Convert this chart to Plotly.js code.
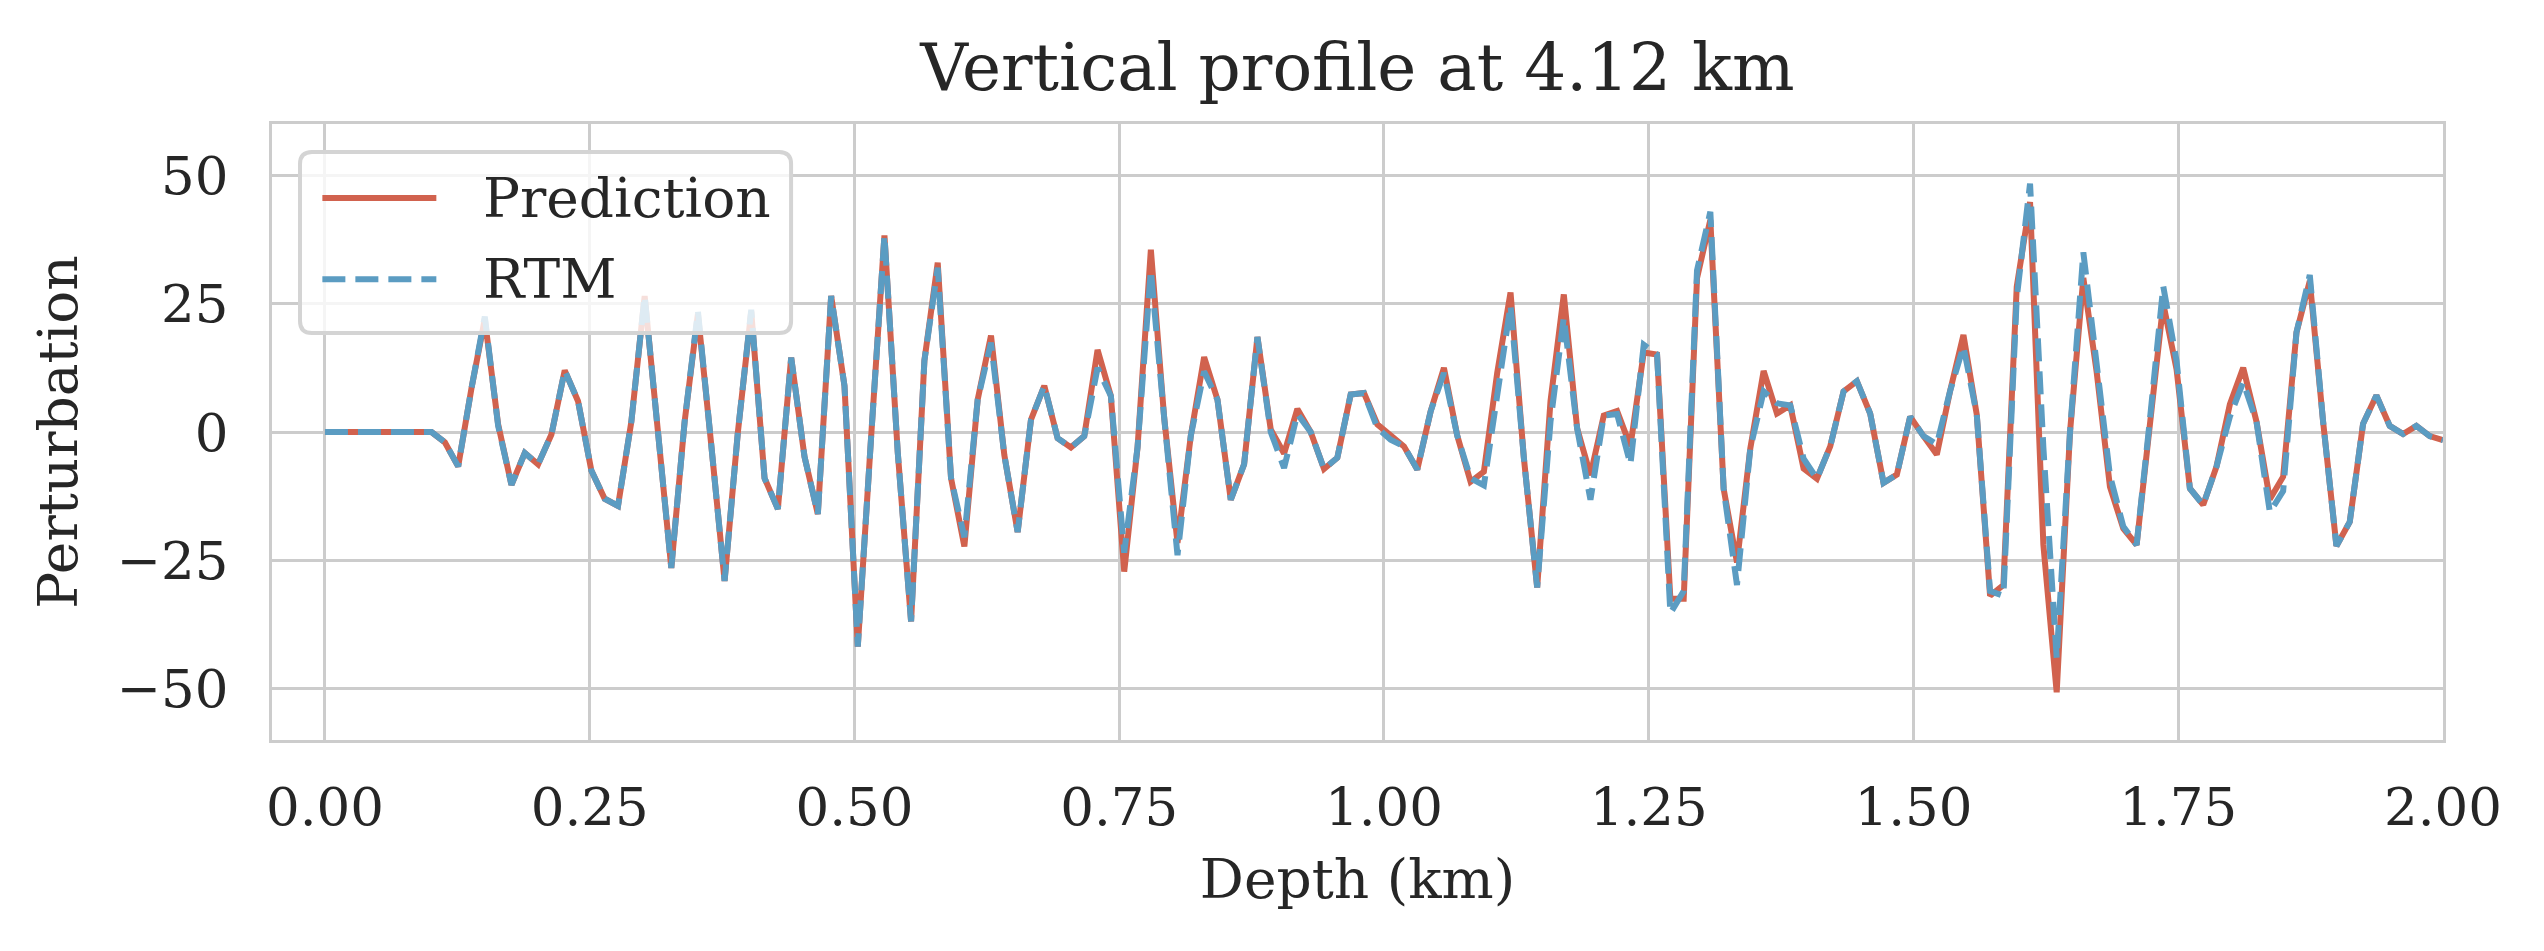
<!DOCTYPE html>
<html>
<head>
<meta charset="utf-8">
<script src="https://cdn.plot.ly/plotly-3.0.1.min.js"></script>
<style>
  html, body { margin: 0; padding: 0; background: #fff; }
  #profile { width: 2544px; height: 951px; }
</style>
</head>
<body>
<div id="profile"></div>
<script>
// samples along the vertical profile, 160 points from 0 to 2 km
const DEPTH_STEP = 2 / 159;

const prediction = [
  0, 0, 0, 0, 0, 0, 0, 0, 0,
  -2, -6.7, 8.5, 22, 1.5, -10.3, -4.1, -6.3, -0.5, 12,
  6, -7.5, -13, -14.4, 2, 26.5, 0, -26.5, 2, 23,
  -2.5, -29, 0, 23.5, -9, -15, 14.5, -4.8, -16, 26.5,
  9, -41.8, -1, 38.3, -4, -36.9, 13.9, 33, -9, -22.3,
  6.3, 18.8, -4.5, -19.5, 2.4, 9, -1.2, -3, -0.8, 16,
  7, -27.2, -3, 35.5, 2.8, -21.6, -0.7, 14.6, 6.3, -13.2,
  -6.3, 18.5, 0.5, -4.2, 4.5, 0, -7.2, -5, 7.3, 7.6,
  1.5, -0.5, -2.8, -7.3, 4, 12.5, -0.7, -9.7, -7.7, 11.5,
  27.2, -5, -30.3, 6, 26.8, 0.7, -8.4, 3.2, 4.1, -2.8,
  15.5, 15.1, -32.5, -32.5, 30, 41.3, -11.1, -25.4, -3.2, 11.9,
  3.6, 5.2, -7.1, -9.1, -2.8, 7.9, 9.9, 3.6, -9.9, -8.3,
  3, -0.8, -4.4, 8, 18.9, 3.4, -31.9, -29.8, 28.3, 44.8,
  -22, -50.7, 0, 30, 11.7, -10.7, -18.8, -22, 2.5, 25,
  12.2, -11, -14.2, -6.7, 5.4, 12.5, 2, -13.1, -8.7, 19.4,
  29.4, 2, -22.2, -17.5, 1.6, 7.1, 1.2, -0.4, 1.2, -0.8,
  -1.6
];

const rtm = [
  0, 0, 0, 0, 0, 0, 0, 0, 0,
  -2, -6.7, 8.5, 22.5, 1.2, -10.3, -4.1, -6.3, -0.5, 12,
  6, -7.5, -13, -14.4, 2, 26.5, 0, -26.5, 2, 23.5,
  -2.5, -29, 0, 23.8, -9, -15, 14.5, -4.8, -16, 26.5,
  9, -41.8, -1, 38.3, -4, -36.9, 13.9, 32, -9, -20.5,
  6.3, 17.4, -4.5, -19.5, 2.4, 9, -1.2, -3, -0.8, 12.5,
  7, -23.5, -3, 31.5, 2.8, -24, -0.7, 11.8, 6.3, -13.2,
  -6.3, 18.5, 0, -7, 3.5, 0, -7.2, -5, 7.3, 7.6,
  0.8, -1.5, -2.8, -7.3, 4, 11.5, -0.7, -9, -10.4, 8,
  24.7, -5, -30.3, 2, 22.3, 0.7, -13.2, 3.2, 3.5, -6.3,
  17, 15.1, -35.3, -31, 31.5, 42.9, -11.1, -29.8, -3.2, 7.9,
  5.6, 5.2, -5.2, -9.1, -2.8, 7.9, 9.9, 3.6, -9.9, -8.3,
  3, -0.8, -2.4, 8, 16.7, 3.4, -31, -31.9, 26.1, 48.4,
  -3, -44, 0, 35, 12.5, -8.5, -18.4, -22, 2.5, 28.4,
  13.8, -11, -14.2, -6.7, 3, 9.7, 2, -15.6, -11.5, 19.4,
  30.6, 2, -22.2, -17.5, 1.6, 7.1, 1.2, -0.4, 1.2, -0.8,
  -1.6
];

const xTicks = [0, 0.25, 0.5, 0.75, 1, 1.25, 1.5, 1.75, 2];
const yTicks = [-50, -25, 0, 25, 50];

const depth = prediction.map((_, i) => i * DEPTH_STEP);

const FONT = 'DejaVu Serif, Liberation Serif, serif';
const TEXT = '#262626';
const GRID = '#cccccc';

const predTrace = {
    x: depth,
    y: prediction,
    name: 'Prediction',
    mode: 'lines',
    type: 'scatter',
    line: { color: '#d1624e', width: 6 }
};

const rtmTrace = {
    x: depth,
    y: rtm,
    name: 'RTM',
    mode: 'lines',
    type: 'scatter',
    line: { color: '#5b9cc2', width: 6, dash: '23px,10px' }
};

// matplotlib-like legend box (long line samples), drawn in paper coords
const legendBox = { x0: 0.0129, x1: 0.2391, y0: 0.6607, y1: 0.9545 };
const legendRows = [0.880, 0.748];

roundedRect = (b, rx, ry) => {
    return `M${b.x0 + rx},${b.y0} L${b.x1 - rx},${b.y0} Q${b.x1},${b.y0} ${b.x1},${b.y0 + ry}` +
        ` L${b.x1},${b.y1 - ry} Q${b.x1},${b.y1} ${b.x1 - rx},${b.y1}` +
        ` L${b.x0 + rx},${b.y1} Q${b.x0},${b.y1} ${b.x0},${b.y1 - ry}` +
        ` L${b.x0},${b.y0 + ry} Q${b.x0},${b.y0} ${b.x0 + rx},${b.y0} Z`;
};

buildLegend = (traces) => {
    const shapes = [{
        type: 'path',
        xref: 'paper', yref: 'paper',
        path: roundedRect(legendBox, 0.0055, 0.0195),
        fillcolor: 'rgba(255,255,255,0.8)',
        line: { color: '#d4d4d4', width: 4 },
        layer: 'above'
    }];
    const annotations = [];
    traces.forEach((t, i) => {
        shapes.push({
            type: 'line',
            xref: 'paper', yref: 'paper',
            x0: 0.0232, x1: 0.0757,
            y0: legendRows[i], y1: legendRows[i],
            line: { color: t.line.color, width: t.line.width, dash: t.line.dash || 'solid' },
            layer: 'above'
        });
        annotations.push({
            xref: 'paper', yref: 'paper',
            x: 0.0963, y: legendRows[i],
            xanchor: 'left', yanchor: 'middle',
            text: t.name,
            showarrow: false,
            font: { family: FONT, size: 55, color: TEXT }
        });
    });
    return { shapes, annotations };
};

const legendParts = buildLegend([predTrace, rtmTrace]);

const axisStyle = {
    showgrid: true,
    gridcolor: GRID,
    gridwidth: 3,
    zeroline: false,
    showline: true,
    linecolor: GRID,
    linewidth: 3,
    mirror: true,
    ticks: '',
    tickfont: { family: FONT, size: 53, color: TEXT }
};

const layout = {
    width: 2544,
    height: 951,
    paper_bgcolor: '#ffffff',
    plot_bgcolor: '#ffffff',
    margin: { l: 272, r: 101, t: 124, b: 211 },
    showlegend: false,
    title: {
        text: 'Vertical profile at 4.12 km',
        font: { family: FONT, size: 66, color: TEXT },
        xref: 'paper',
        x: 0.5,
        xanchor: 'center',
        yref: 'container',
        y: 0.93,
        yanchor: 'middle'
    },
    xaxis: Object.assign({}, axisStyle, {
        range: [-0.05, 2.0],
        tickvals: xTicks,
        tickformat: '.2f',
        ticklabelstandoff: 18,
        title: {
            text: 'Depth (km)',
            font: { family: FONT, size: 55, color: TEXT },
            standoff: 24
        }
    }),
    yaxis: Object.assign({}, axisStyle, {
        range: [-60, 60],
        tickvals: yTicks,
        ticklabelstandoff: 30,
        title: {
            text: 'Perturbation',
            font: { family: FONT, size: 55, color: TEXT },
            standoff: 22
        }
    }),
    shapes: legendParts.shapes,
    annotations: legendParts.annotations
};

Plotly.newPlot('profile', [predTrace, rtmTrace], layout, { staticPlot: true });
</script>
</body>
</html>
